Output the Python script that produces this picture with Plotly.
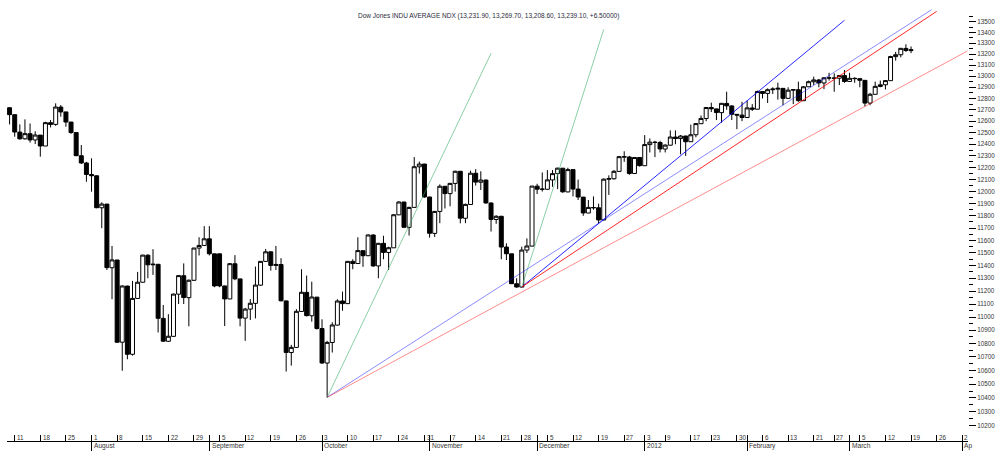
import plotly.graph_objects as go

# ---------------- data ----------------
dates = [
    "2011-07-08", "2011-07-11", "2011-07-12", "2011-07-13", "2011-07-14", "2011-07-15",
    "2011-07-18", "2011-07-19", "2011-07-20", "2011-07-21", "2011-07-22",
    "2011-07-25", "2011-07-26", "2011-07-27", "2011-07-28", "2011-07-29",
    "2011-08-01", "2011-08-02", "2011-08-03", "2011-08-04", "2011-08-05",
    "2011-08-08", "2011-08-09", "2011-08-10", "2011-08-11", "2011-08-12",
    "2011-08-15", "2011-08-16", "2011-08-17", "2011-08-18", "2011-08-19",
    "2011-08-22", "2011-08-23", "2011-08-24", "2011-08-25", "2011-08-26",
    "2011-08-29", "2011-08-30", "2011-08-31", "2011-09-01", "2011-09-02",
    "2011-09-05", "2011-09-06", "2011-09-07", "2011-09-08", "2011-09-09",
    "2011-09-12", "2011-09-13", "2011-09-14", "2011-09-15", "2011-09-16",
    "2011-09-19", "2011-09-20", "2011-09-21", "2011-09-22", "2011-09-23",
    "2011-09-26", "2011-09-27", "2011-09-28", "2011-09-29", "2011-09-30",
    "2011-10-03", "2011-10-04", "2011-10-05", "2011-10-06", "2011-10-07",
    "2011-10-10", "2011-10-11", "2011-10-12", "2011-10-13", "2011-10-14",
    "2011-10-17", "2011-10-18", "2011-10-19", "2011-10-20", "2011-10-21",
    "2011-10-24", "2011-10-25", "2011-10-26", "2011-10-27", "2011-10-28",
    "2011-10-31", "2011-11-01", "2011-11-02", "2011-11-03", "2011-11-04",
    "2011-11-07", "2011-11-08", "2011-11-09", "2011-11-10", "2011-11-11",
    "2011-11-14", "2011-11-15", "2011-11-16", "2011-11-17", "2011-11-18",
    "2011-11-21", "2011-11-22", "2011-11-23", "2011-11-25",
    "2011-11-28", "2011-11-29", "2011-11-30", "2011-12-01", "2011-12-02",
    "2011-12-05", "2011-12-06", "2011-12-07", "2011-12-08", "2011-12-09",
    "2011-12-12", "2011-12-13", "2011-12-14", "2011-12-15", "2011-12-16",
    "2011-12-19", "2011-12-20", "2011-12-21", "2011-12-22", "2011-12-23",
    "2011-12-27", "2011-12-28", "2011-12-29", "2011-12-30",
    "2012-01-03", "2012-01-04", "2012-01-05", "2012-01-06",
    "2012-01-09", "2012-01-10", "2012-01-11", "2012-01-12", "2012-01-13",
    "2012-01-17", "2012-01-18", "2012-01-19", "2012-01-20",
    "2012-01-23", "2012-01-24", "2012-01-25", "2012-01-26", "2012-01-27",
    "2012-01-30", "2012-01-31", "2012-02-01", "2012-02-02", "2012-02-03",
    "2012-02-06", "2012-02-07", "2012-02-08", "2012-02-09", "2012-02-10",
    "2012-02-13", "2012-02-14", "2012-02-15", "2012-02-16", "2012-02-17",
    "2012-02-21", "2012-02-22", "2012-02-23", "2012-02-24",
    "2012-02-27", "2012-02-28", "2012-02-29", "2012-03-01", "2012-03-02",
    "2012-03-05", "2012-03-06", "2012-03-07", "2012-03-08", "2012-03-09",
    "2012-03-12", "2012-03-13", "2012-03-14", "2012-03-15", "2012-03-16",
    "2012-03-19",
]

opens = [
    12718, 12657, 12505, 12447, 12491, 12437,
    12479, 12385, 12587, 12572, 12724,
    12681, 12592, 12501, 12302, 12240,
    12143, 12132, 11866, 11896, 11383,
    11444, 10810, 11239, 10720, 11143,
    11269, 11482, 11406, 11410, 10990,
    10817, 10854, 11176, 11320, 11149,
    11284, 11539, 11560, 11613, 11493,
    11493, 11240, 11139, 11414, 11295,
    10992, 11061, 11105, 11246, 11433,
    11509, 11401, 11408, 11124, 10733,
    10771, 11043, 11190, 11010, 11153,
    10913, 10655, 10808, 10939, 11123,
    11103, 11433, 11416, 11518, 11478,
    11644, 11397, 11577, 11504, 11541,
    11808, 11913, 11706, 11869, 12208,
    12231, 11955, 11657, 11836, 12044,
    11983, 12068, 12170, 11780, 11893,
    12153, 12078, 12096, 11905, 11770,
    11796, 11547, 11493, 11257,
    11231, 11523, 11555, 12045, 12020,
    12019, 12097, 12150, 12196, 11997,
    12184, 12021, 11954, 11823, 11868,
    11866, 11766, 12103, 12107, 12169,
    12294, 12291, 12151, 12287,
    12217, 12397, 12418, 12415,
    12359, 12392, 12462, 12449, 12471,
    12422, 12482, 12578, 12623,
    12720, 12708, 12675, 12756, 12734,
    12660, 12653, 12632, 12716, 12705,
    12862, 12845, 12878, 12883, 12890,
    12801, 12874, 12878, 12780, 12904,
    12949, 12965, 12938, 12984,
    12982, 12981, 13005, 12952, 12980,
    12977, 12962, 12759, 12837, 12907,
    12922, 12959, 13177, 13194, 13252,
    13231.90,
]

highs = [
    12723, 12660, 12572, 12616, 12580, 12512,
    12480, 12595, 12610, 12757, 12742,
    12683, 12595, 12505, 12394, 12250,
    12280, 12135, 11911, 11898, 11556,
    11446, 11244, 11242, 11279, 11350,
    11485, 11490, 11530, 11412, 11093,
    11022, 11180, 11325, 11417, 11290,
    11540, 11626, 11716, 11716, 11494,
    11494, 11242, 11420, 11483, 11296,
    11070, 11138, 11392, 11435, 11532,
    11512, 11556, 11459, 11126, 10790,
    11061, 11371, 11321, 11273, 11155,
    10983, 10820, 10960, 11137, 11196,
    11435, 11450, 11626, 11520, 11648,
    11650, 11580, 11638, 11550, 11812,
    11920, 11915, 11875, 12290, 12252,
    12233, 11957, 11840, 12060, 12046,
    12072, 12175, 12172, 11900, 12175,
    12188, 12170, 12100, 11910, 11805,
    11800, 11577, 11495, 11300,
    11550, 11617, 12046, 12065, 12160,
    12180, 12180, 12200, 12198, 12200,
    12186, 12100, 11956, 11930, 11960,
    11900, 12110, 12136, 12180, 12300,
    12340, 12300, 12290, 12290,
    12479, 12450, 12430, 12430,
    12400, 12520, 12520, 12480, 12473,
    12570, 12580, 12650, 12722,
    12763, 12710, 12760, 12860, 12740,
    12662, 12770, 12780, 12750, 12870,
    12864, 12890, 12900, 12941, 12892,
    12900, 12880, 12950, 12910, 12960,
    12995, 12975, 12990, 13030,
    13025, 13010, 13055, 13030, 12990,
    12980, 12964, 12850, 12950, 12960,
    12965, 13185, 13220, 13255, 13290,
    13269.70,
]

lows = [
    12572, 12465, 12440, 12440, 12414, 12402,
    12294, 12385, 12546, 12560, 12639,
    12552, 12490, 12298, 12232, 12082,
    11999, 11862, 11699, 11365, 11137,
    10806, 10598, 10683, 10710, 11140,
    11265, 11300, 11326, 10883, 10815,
    10813, 10850, 11100, 11100, 10930,
    11280, 11480, 11555, 11480, 11230,
    11230, 10932, 11139, 11285, 10930,
    10820, 10978, 10990, 11240, 11430,
    11360, 11365, 11120, 10592, 10636,
    10768, 11040, 11005, 10965, 10905,
    10650, 10404.49, 10733, 10936, 11048,
    11100, 11371, 11414, 11390, 11476,
    11390, 11300, 11450, 11365, 11540,
    11805, 11700, 11640, 11866, 12151,
    11950, 11623, 11628, 11740, 11860,
    11878, 12000, 11739, 11740, 11890,
    12050, 12013, 11900, 11672, 11735,
    11450, 11444, 11255, 11226,
    11231, 11500, 11553, 11980, 12000,
    12017, 12040, 12020, 11990, 11995,
    11960, 11930, 11800, 11821, 11850,
    11740, 11764, 11972, 12100, 12167,
    12250, 12140, 12149, 12210,
    12215, 12330, 12290, 12330,
    12330, 12390, 12400, 12314, 12300,
    12420, 12460, 12576, 12600,
    12680, 12610, 12587, 12700, 12610,
    12530, 12600, 12630, 12690, 12703,
    12800, 12760, 12840, 12790, 12740,
    12799, 12750, 12770, 12778, 12902,
    12920, 12900, 12883, 12960,
    12860, 12920, 12940, 12950, 12940,
    12900, 12730, 12740, 12835, 12900,
    12880, 12957, 13140, 13170, 13220,
    13208.60,
]

closes = [
    12657.20, 12505.76, 12446.88, 12491.61, 12437.12, 12479.73,
    12385.16, 12587.42, 12571.91, 12724.41, 12681.16,
    12592.80, 12501.30, 12302.55, 12240.11, 12143.24,
    12132.49, 11866.62, 11896.44, 11383.68, 11444.61,
    10809.85, 11239.77, 10719.94, 11143.31, 11269.02,
    11482.90, 11405.93, 11410.21, 10990.58, 10817.65,
    10854.65, 11176.76, 11320.71, 11149.82, 11284.54,
    11539.25, 11559.95, 11613.53, 11493.57, 11240.26,
    11240.26, 11139.30, 11414.86, 11295.81, 10992.13,
    11061.12, 11105.85, 11246.73, 11433.18, 11509.09,
    11401.01, 11408.66, 11124.84, 10733.83, 10771.48,
    11043.86, 11190.69, 11010.90, 11153.98, 10913.38,
    10655.30, 10808.71, 10939.95, 11123.33, 11103.12,
    11433.18, 11416.30, 11518.85, 11478.13, 11644.49,
    11397.00, 11577.05, 11504.62, 11541.78, 11808.79,
    11913.62, 11706.62, 11869.04, 12208.55, 12231.11,
    11955.01, 11657.96, 11836.04, 12044.47, 11983.24,
    12068.39, 12170.18, 11780.94, 11893.86, 12153.68,
    12078.98, 12096.16, 11905.59, 11770.73, 11796.16,
    11547.31, 11493.72, 11257.55, 11231.78,
    11523.01, 11555.63, 12045.68, 12020.03, 12019.42,
    12097.83, 12150.13, 12196.37, 11997.70, 12184.26,
    12021.39, 11954.94, 11823.48, 11868.81, 11866.39,
    11766.26, 12103.58, 12107.74, 12169.65, 12294.00,
    12291.35, 12151.41, 12287.04, 12217.56,
    12397.38, 12418.42, 12415.70, 12359.92,
    12392.69, 12462.47, 12449.45, 12471.02, 12422.06,
    12482.07, 12578.95, 12623.98, 12720.48,
    12708.82, 12675.75, 12756.96, 12734.63, 12660.46,
    12653.72, 12632.91, 12716.46, 12705.41, 12862.23,
    12845.13, 12878.20, 12883.95, 12890.46, 12801.23,
    12874.04, 12878.28, 12780.95, 12904.08, 12949.87,
    12965.69, 12938.67, 12984.69, 12982.95,
    12981.20, 13005.12, 12952.07, 12980.30, 12977.57,
    12962.81, 12759.15, 12837.33, 12907.94, 12922.02,
    12959.71, 13177.68, 13194.10, 13252.76, 13232.60,
    13239.10,
]

# trading days after the last bar (axis runs on to early April)
future_dates = ["2012-03-20", "2012-03-21", "2012-03-22", "2012-03-23",
                "2012-03-26", "2012-03-27", "2012-03-28", "2012-03-29",
                "2012-03-30", "2012-04-02", "2012-04-03"]

week_tick_dates = [
    "2011-07-11", "2011-07-18", "2011-07-25", "2011-08-01", "2011-08-08",
    "2011-08-15", "2011-08-22", "2011-08-29", "2011-09-05", "2011-09-12",
    "2011-09-19", "2011-09-26", "2011-10-03", "2011-10-10", "2011-10-17",
    "2011-10-24", "2011-10-31", "2011-11-07", "2011-11-14", "2011-11-21",
    "2011-11-28", "2011-12-05", "2011-12-12", "2011-12-19", "2011-12-27",
    "2012-01-03", "2012-01-09", "2012-01-17", "2012-01-23", "2012-01-30",
    "2012-02-06", "2012-02-13", "2012-02-21", "2012-02-27", "2012-03-05",
    "2012-03-12", "2012-03-19", "2012-03-26", "2012-04-02",
]
week_tick_labels = [
    "11", "18", "25", "1", "8", "15", "22", "29", "5", "12",
    "19", "26", "3", "10", "17", "24", "31", "7", "14", "21",
    "28", "5", "12", "19", "27", "3", "9", "17", "23", "30",
    "6", "13", "21", "27", "5", "12", "19", "26", "2",
]
month_tick_dates = ["2011-08-01", "2011-09-01", "2011-10-03", "2011-11-01",
                    "2011-12-01", "2012-01-03", "2012-02-01", "2012-03-01",
                    "2012-04-02"]
month_tick_labels = ["August", "September", "October", "November",
                     "December", "2012", "February", "March", "Ap"]

price_ticks = list(range(10200, 13501, 100))
price_tick_labels = [str(v) for v in price_ticks]
price_minor_ticks = [v + 50 for v in range(10200, 13600, 100)]

# trend lines: (start date, start price, end date, end price, colour)
trend_lines = [
    ("2011-10-04", 10404.49, "2011-11-17", 13207, "rgba(60,175,105,0.6)"),
    ("2011-11-28", 11231.78, "2011-12-20", 13428, "rgba(60,175,105,0.6)"),
    ("2011-11-28", 11231.78, "2012-02-29", 13513, "rgba(0,0,255,0.85)"),
    ("2011-10-04", 10404.49, "2012-03-23", 13612, "rgba(0,0,255,0.45)"),
    ("2011-11-28", 11231.78, "2012-03-26", 13597, "rgba(255,0,0,0.85)"),
    ("2011-10-04", 10404.49, "2012-04-03", 13228, "rgba(255,0,0,0.45)"),
]

# ---------------- figure ----------------
all_dates = dates + future_dates
pos = {d: i for i, d in enumerate(all_dates)}
xs = [pos[d] for d in dates]

W, H = 1006, 462
ML, MR, MT, MB = 7, 38, 0, 21
x_range = [-0.504, 187.12]
y_range = [4.00408, 4.13686]

fig = go.Figure()
fig.add_trace(go.Candlestick(
    x=xs, open=opens, high=highs, low=lows, close=closes,
    increasing=dict(line=dict(color="black", width=1), fillcolor="white"),
    decreasing=dict(line=dict(color="black", width=1), fillcolor="black"),
    whiskerwidth=0, hoverinfo="skip", showlegend=False,
))

for d0, p0, d1, p1, col in trend_lines:
    fig.add_trace(go.Scatter(
        x=[pos[d0], pos[d1]], y=[p0, p1], mode="lines",
        line=dict(color=col, width=1), hoverinfo="skip", showlegend=False,
    ))

# dummy trace so that the month-tick axis is drawn
fig.add_trace(go.Scatter(
    x=[pos[month_tick_dates[0]]], y=[closes[0]], xaxis="x2", mode="markers",
    marker=dict(opacity=0), hoverinfo="skip", showlegend=False,
))

week_pos = [pos[d] for d in week_tick_dates]
month_pos = [pos[d] for d in month_tick_dates]

ann = []
plot_h = H - MT - MB
for xp, lab in zip(week_pos, week_tick_labels):
    ann.append(dict(x=xp, xref="x", y=3.4 / plot_h, yref="paper", text=lab,
                    showarrow=False, xanchor="left", yanchor="middle",
                    xshift=1.2, borderpad=0,
                    font=dict(family="Liberation Sans, Arial", size=6.3, color="#333")))
for xp, lab in zip(month_pos, month_tick_labels):
    ann.append(dict(x=xp, xref="x", y=-4.8 / plot_h, yref="paper", text=lab,
                    showarrow=False, xanchor="left", yanchor="middle",
                    xshift=1.2, borderpad=0,
                    font=dict(family="Liberation Sans, Arial", size=6.6, color="#333")))

chg = closes[-1] - closes[-2]
title_text = ("Dow Jones INDU AVERAGE NDX ({:,.2f}, {:,.2f}, {:,.2f}, {:,.2f}, {:+.5f})"
              .format(opens[-1], highs[-1], lows[-1], closes[-1], chg))
ann.append(dict(x=(488.5 - ML) / (W - ML - MR), xref="paper", y=1 - 15.5 / plot_h,
                yref="paper", text=title_text, showarrow=False, xanchor="center",
                yanchor="middle", borderpad=0,
                font=dict(family="Liberation Sans, Arial", size=6.5, color="#2a2a3a")))

fig.update_layout(
    width=W, height=H,
    margin=dict(l=ML, r=MR, t=MT, b=MB, pad=0),
    paper_bgcolor="white", plot_bgcolor="white",
    boxgap=0.12, boxgroupgap=0.12,
    showlegend=False, hovermode=False,
    annotations=ann,
    xaxis=dict(
        range=x_range, showgrid=False, zeroline=False,
        showline=True, linecolor="black", linewidth=1,
        ticks="inside", ticklen=6, tickcolor="black", tickwidth=1,
        tickmode="array", tickvals=sorted(set(week_pos + month_pos)),
        showticklabels=False, rangeslider=dict(visible=False),
        fixedrange=True, automargin=False,
    ),
    xaxis2=dict(
        range=x_range, overlaying="x", anchor="y", side="bottom",
        showgrid=False, zeroline=False, showline=False,
        ticks="outside", ticklen=9, tickcolor="black", tickwidth=1,
        tickmode="array", tickvals=month_pos, showticklabels=False,
        fixedrange=True, automargin=False,
    ),
    yaxis=dict(
        type="log", range=y_range, side="right",
        showgrid=False, zeroline=False, showline=False,
        ticks="outside", ticklen=7, tickcolor="black", tickwidth=1,
        tickmode="array", tickvals=price_ticks, ticktext=price_tick_labels,
        tickfont=dict(family="Liberation Sans, Arial", size=6.3, color="#333"),
        minor=dict(tickmode="array", tickvals=price_minor_ticks, ticks="outside",
                   ticklen=4, tickcolor="black", tickwidth=1, showgrid=False),
        fixedrange=True, automargin=False,
    ),
)

fig.write_html("out.html")
